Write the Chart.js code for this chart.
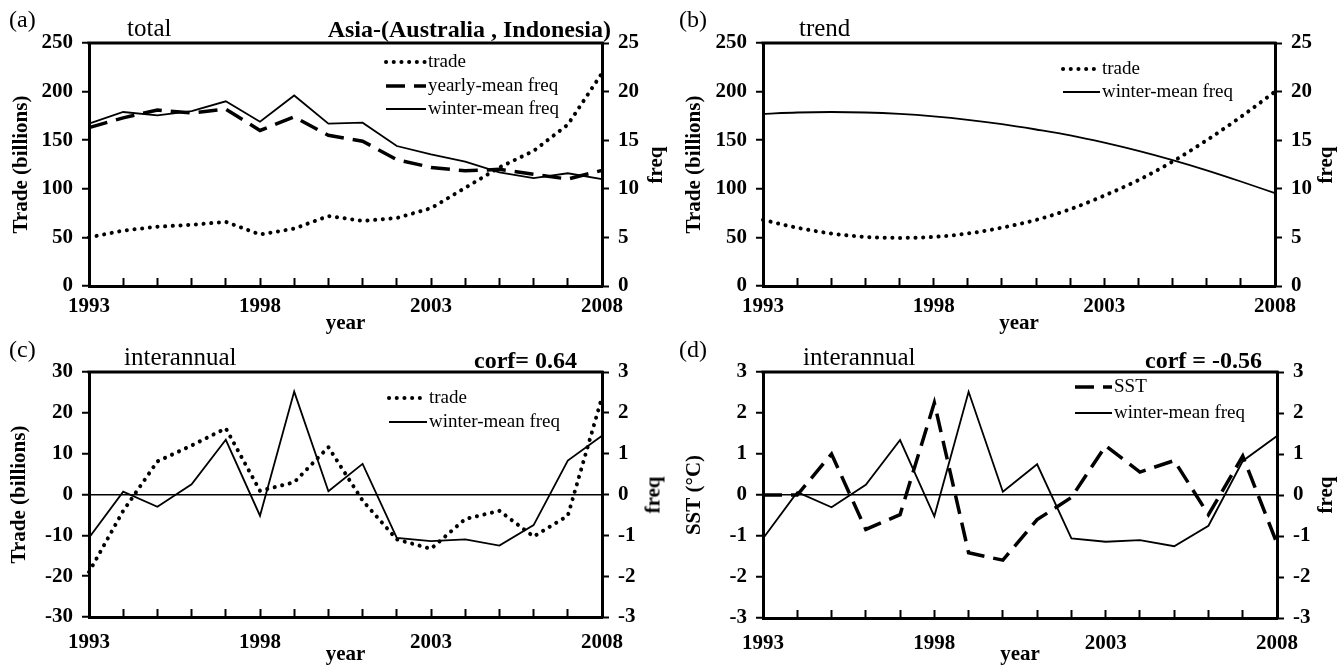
<!DOCTYPE html>
<html>
<head>
<meta charset="utf-8">
<script src="https://cdn.jsdelivr.net/npm/chart.js@4.4.1/dist/chart.umd.min.js"></script>
<style>
html,body{margin:0;padding:0;background:#fff;}
body{width:1343px;height:665px;position:relative;overflow:hidden;font-family:"Liberation Serif","Times New Roman",serif;color:#000;}
canvas{position:absolute;display:block;}
.lbl{position:absolute;white-space:nowrap;line-height:1;color:#000;}
.pl{font-size:24px;}
.st{font-size:25px;}
.bt{font-size:24px;font-weight:bold;}
.vt{position:absolute;white-space:nowrap;line-height:1;font-size:21px;font-weight:bold;transform:translate(-50%,-50%) rotate(-90deg);}
</style>
</head>
<body>
<canvas id="ca" width="671" height="334" style="left:0;top:0"></canvas>
<canvas id="cb" width="672" height="334" style="left:671px;top:0"></canvas>
<canvas id="cc" width="671" height="331" style="left:0;top:334px"></canvas>
<canvas id="cd" width="672" height="331" style="left:671px;top:334px"></canvas>

<div class="lbl pl" style="left:9px;top:7px">(a)</div>
<div class="lbl st" style="left:127px;top:15px">total</div>
<div class="lbl bt" style="right:732px;top:17px">Asia-(Australia , Indonesia)</div>
<div class="vt" style="left:655px;top:165px">freq</div>

<div class="lbl pl" style="left:679px;top:7px">(b)</div>
<div class="lbl st" style="left:799px;top:15px">trend</div>
<div class="vt" style="left:1325px;top:165px">freq</div>

<div class="lbl pl" style="left:9px;top:337px">(c)</div>
<div class="lbl st" style="left:124px;top:344px">interannual</div>
<div class="lbl bt" style="right:766px;top:348px">corf= 0.64</div>
<div class="vt" style="left:653px;top:495px">freq</div>

<div class="lbl pl" style="left:679px;top:337px">(d)</div>
<div class="lbl st" style="left:803px;top:344px">interannual</div>
<div class="lbl bt" style="right:81px;top:348px">corf = -0.56</div>
<div class="vt" style="left:1325px;top:495px">freq</div>

<script>
// ---------------- data ----------------
const years = [1993,1994,1995,1996,1997,1998,1999,2000,2001,2002,2003,2004,2005,2006,2007,2008];
const xTickYears = [1993,1998,2003,2008];

// (a) total
const tradeTotal       = [50, 57, 61, 63, 66, 53, 59, 72, 67, 70, 80, 101, 122, 139, 166, 219];
const yearlyFreqTotal  = [16.3, 17.3, 18.1, 17.8, 18.2, 16.0, 17.4, 15.5, 14.9, 13.0, 12.2, 11.85, 12.0, 11.5, 11.0, 11.9];
const winterFreqTotal  = [16.7, 17.9, 17.55, 18.0, 19.0, 16.9, 19.6, 16.7, 16.8, 14.4, 13.55, 12.8, 11.7, 11.1, 11.6, 11.0];

// (b) trend
const tradeTrend       = [68, 60, 54, 50.5, 49.5, 50.5, 54, 60, 68, 79, 93, 109, 128, 150, 174, 200];
const winterFreqTrend  = [17.7, 17.85, 17.9, 17.85, 17.7, 17.45, 17.1, 16.65, 16.1, 15.5, 14.75, 13.9, 12.95, 11.9, 10.75, 9.55];

// (c) interannual trade / freq
const tradeInterannual      = [-19, -4, 8.1, 12, 16.2, 0.9, 3, 11.6, -1.5, -11, -13.3, -6, -4, -10.3, -5.2, 23.8];
const winterFreqInterannual = [-1.06, 0.07, -0.3, 0.25, 1.34, -0.52, 2.52, 0.08, 0.75, -1.06, -1.14, -1.1, -1.25, -0.75, 0.83, 1.44];

// (d) interannual SST
const sstInterannual = [0.0, 0.0, 1.0, -0.84, -0.48, 2.25, -1.41, -1.59, -0.6, -0.06, 1.2, 0.56, 0.84, -0.48, 0.95, -1.18];

// ---------------- helpers ----------------
Chart.defaults.font.family = "'Liberation Serif','Times New Roman',serif";
Chart.defaults.color = '#000';

const yearLabels = years.map(String);

function lineDS(label, data, style, axis) {
  const ds = {label, data, yAxisID: axis, borderColor:'#000', backgroundColor:'#000',
    pointRadius:0, pointHoverRadius:0, fill:false, tension:0, clip:false};
  if (style === 'dot') Object.assign(ds, {borderWidth:4, borderDash:[0.1, 7.6], borderCapStyle:'round'});
  else if (style === 'dash') Object.assign(ds, {borderWidth:3.5, borderDash:[19, 9], borderCapStyle:'butt'});
  else Object.assign(ds, {borderWidth:1.8});
  return ds;
}

function framePlugin() {
  return {
    id:'frame',
    afterDraw(chart) {
      const {ctx, chartArea:a} = chart;
      ctx.save();
      ctx.strokeStyle = '#000'; ctx.lineWidth = 3;
      ctx.beginPath(); ctx.moveTo(a.left - 1.5, a.top); ctx.lineTo(a.right + 1.5, a.top); ctx.stroke();
      ctx.restore();
    }
  };
}

function legendPlugin(x, w, rows) {
  return {
    id:'insideLegend',
    afterDraw(chart) {
      const ctx = chart.ctx;
      chart.data.datasets.forEach((ds, i) => {
        const y = rows[i];
        ctx.save();
        ctx.strokeStyle = '#000';
        ctx.lineWidth = ds.borderWidth;
        ctx.setLineDash(ds.borderDash || []);
        ctx.lineCap = ds.borderCapStyle || 'butt';
        ctx.beginPath(); ctx.moveTo(x, y); ctx.lineTo(x + w, y); ctx.stroke();
        ctx.setLineDash([]);
        ctx.fillStyle = '#000';
        ctx.font = "19px 'Liberation Serif','Times New Roman',serif";
        ctx.textBaseline = 'middle'; ctx.textAlign = 'left';
        ctx.fillText(ds.label, x + w + 2, y);
        ctx.restore();
      });
    }
  };
}

function makePanel(id, p) {
  const tickFont = {size:21, weight:'bold'};
  const zeroColor = (c) => (p.zero && c.tick && c.tick.value === 0) ? '#000' : 'rgba(0,0,0,0)';
  return new Chart(document.getElementById(id), {
    type:'line',
    data:{labels: yearLabels, datasets: p.datasets},
    options:{
      responsive:false, animation:false, devicePixelRatio:1,
      layout:{padding:{top:p.top, left:0, right:0, bottom:0}},
      plugins:{legend:{display:false}, tooltip:{enabled:false}},
      elements:{line:{cubicInterpolationMode: p.smooth ? 'monotone' : 'default'}},
      scales:{
        x:{
          type:'category', offset:false,
          border:{display:true, color:'#000', width:3},
          grid:{drawOnChartArea:false, drawTicks:true, tickLength:-8, tickWidth:2, tickColor:'#000'},
          ticks:{autoSkip:false, maxRotation:0, minRotation:0, padding:p.xPad, font:tickFont,
            callback:(v, i) => xTickYears.includes(years[i]) ? String(years[i]) : ''},
          title:{display:true, text:'year', font:{size:21, weight:'bold', lineHeight:1}, padding:0},
          afterFit:(s) => { s.height = p.bottom; }
        },
        y:{
          type:'linear', position:'left', min:p.yMin, max:p.yMax,
          border:{display:true, color:'#000', width:3},
          grid:{drawOnChartArea:!!p.zero, color:zeroColor, lineWidth:1.5, drawTicks:true, tickLength:7, tickWidth:2, tickColor:'#000'},
          ticks:{stepSize:p.yStep, padding:9, font:tickFont},
          title:{display:true, text:p.yTitle, font:{size:21, weight:'bold'}, padding:{top:p.yTitlePad, bottom:0}},
          afterFit:(s) => { s.width = p.left; }
        },
        y1:{
          type:'linear', position:'right', min:p.y1Min, max:p.y1Max,
          border:{display:true, color:'#000', width:3},
          grid:{drawOnChartArea:false, drawTicks:true, tickLength:7, tickWidth:2, tickColor:'#000'},
          ticks:{stepSize:p.y1Step, padding:9, font:tickFont},
          title:{display:false},
          afterFit:(s) => { s.width = p.right; }
        }
      }
    },
    plugins:[framePlugin(), legendPlugin(p.legX, p.legW, p.legRows)]
  });
}

// (a)
makePanel('ca', {
  datasets:[
    lineDS('trade', tradeTotal, 'dot', 'y'),
    lineDS('yearly-mean freq', yearlyFreqTotal, 'dash', 'y1'),
    lineDS('winter-mean freq', winterFreqTotal, 'solid', 'y1')
  ],
  top:43, bottom:48, left:89, right:69, xPad:16,
  yMin:0, yMax:250, yStep:50, y1Min:0, y1Max:25, y1Step:5,
  yTitle:'Trade (billions)', yTitlePad:9,
  legX:386, legW:40, legRows:[62, 86, 109]
});

// (b)
makePanel('cb', {
  datasets:[
    lineDS('trade', tradeTrend, 'dot', 'y'),
    lineDS('winter-mean freq', winterFreqTrend, 'solid', 'y1')
  ],
  smooth:true,
  top:43, bottom:48, left:92, right:68, xPad:16,
  yMin:0, yMax:250, yStep:50, y1Min:0, y1Max:25, y1Step:5,
  yTitle:'Trade (billions)', yTitlePad:11,
  legX:392, legW:37, legRows:[69, 92]
});

// (c)
makePanel('cc', {
  datasets:[
    lineDS('trade', tradeInterannual, 'dot', 'y'),
    lineDS('winter-mean freq', winterFreqInterannual, 'solid', 'y1')
  ],
  zero:true,
  top:38, bottom:48, left:89, right:69, xPad:21,
  yMin:-30, yMax:30, yStep:10, y1Min:-3, y1Max:3, y1Step:1,
  yTitle:'Trade (billions)', yTitlePad:7,
  legX:389, legW:38, legRows:[64, 88]
});

// (d)
makePanel('cd', {
  datasets:[
    lineDS('SST', sstInterannual, 'dash', 'y'),
    lineDS('winter-mean freq', winterFreqInterannual, 'solid', 'y1')
  ],
  zero:true,
  top:38, bottom:47, left:92, right:66, xPad:21,
  yMin:-3, yMax:3, yStep:1, y1Min:-3, y1Max:3, y1Step:1,
  yTitle:'SST (°C)', yTitlePad:11,
  legX:404, legW:37, legRows:[53, 79]
});
</script>
</body>
</html>
